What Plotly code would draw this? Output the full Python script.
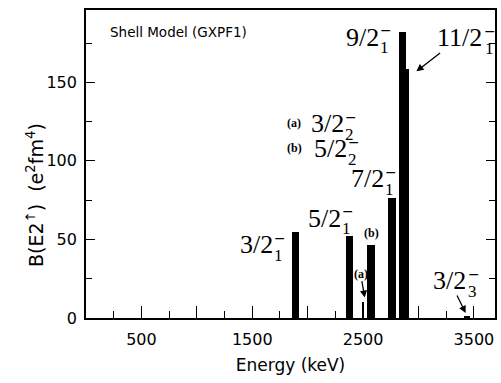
import plotly.graph_objects as go

# ---- data ----
states = ["3/2_1", "5/2_1", "3/2_2 (a)", "5/2_2 (b)", "7/2_1", "11/2_1", "9/2_1", "3/2_3"]
energy_keV = [1889, 2378, 2497, 2569, 2761, 2877, 2857, 3437]
be2_values = [55, 52.5, 10.5, 46.6, 76.3, 158.4, 182, 1.2]
bar_widths = [70, 68, 18, 70, 70, 70, 66, 60]

x_label_ticks = [500, 1500, 2500, 3500]
x_label_text = ["500", "1500", "2500", "3500"]
x_unlabeled_ticks = [1000, 2000, 3000]
y_tick_vals = [0, 50, 100, 150]
y_tick_text = ["0", "50", "100", "150"]

X_RANGE = [0, 3690]
Y_RANGE = [0, 196]
PLOT_W = 501 - 86 - 6
PX = PLOT_W / (X_RANGE[1] - X_RANGE[0])  # pixels per keV

SANS = "DejaVu Sans"
SERIF = "Liberation Serif"

fig = go.Figure()
fig.add_trace(go.Bar(x=energy_keV, y=be2_values, width=bar_widths,
                     marker=dict(color="black", line=dict(width=0)),
                     hoverinfo="x+y"))
# invisible trace on the overlay axis carrying the unlabeled long ticks
fig.add_trace(go.Scatter(x=[X_RANGE[0]], y=[0], xaxis="x2", mode="markers",
                         marker=dict(opacity=0), hoverinfo="skip", showlegend=False))

ann = []
MAIN = 26
SUBS = 17
W = {"0": .5, "1": .5, "2": .5, "3": .5, "4": .5, "5": .5, "6": .5, "7": .5,
     "8": .5, "9": .5, "/": .278}


def level(x, y, main, sub, head=None):
    w = sum(W[c] for c in main) * MAIN
    base = dict(text=main, showarrow=False, yanchor="middle", borderpad=0,
                font=dict(family=SERIF, size=MAIN, color="black"))
    if head is None:
        base.update(x=x, y=y, xanchor="left")
    else:
        xc = x + (w / 2) / PX
        base.update(x=head[0], y=head[1], ax=xc, ay=y, axref="x", ayref="y",
                    xanchor="center", showarrow=True, arrowhead=2, arrowsize=1.1,
                    arrowwidth=1.3, arrowcolor="black")
    ann.append(base)
    # subscript index
    ann.append(dict(x=x, y=y, text=sub, xanchor="left", yanchor="middle", borderpad=0,
                    xshift=w + 1, yshift=-10.8, showarrow=False,
                    font=dict(family=SERIF, size=SUBS, color="black")))
    # parity sign stacked above the index
    ann.append(dict(x=x, y=y, text="\u2212", xanchor="left", yanchor="middle", borderpad=0,
                    xshift=w + 0.5, yshift=6.9, showarrow=False,
                    font=dict(family=SANS, size=14, color="black")))


def small(x, y, t, anchor="left", head=None):
    a = dict(text="<b>%s</b>" % t, yanchor="middle", borderpad=0,
             font=dict(family=SERIF, size=12, color="black"))
    if head is None:
        a.update(x=x, y=y, xanchor=anchor, showarrow=False)
    else:
        a.update(x=head[0], y=head[1], ax=x, ay=y, axref="x", ayref="y",
                 xanchor="center", showarrow=True, arrowhead=2, arrowsize=1.1,
                 arrowwidth=1.3, arrowcolor="black")
    ann.append(a)


level(2335, 178.7, "9/2", "1")
level(3161, 178.2, "11/2", "1", head=(2981, 157))
level(2019, 123.5, "3/2", "2")
level(2046, 107.7, "5/2", "2")
level(2380, 88.6, "7/2", "1")
level(1995, 63.6, "5/2", "1")
level(1382, 46.5, "3/2", "1")
level(3131, 23.9, "3/2", "3", head=(3425, 3.2))
small(1803, 124.0, "(a)")
small(1803, 108.0, "(b)")
small(2578, 54.0, "(b)", "center")
small(2477, 28.2, "(a)", head=(2515, 13))

ann.append(dict(x=198, y=182, text="Shell Model (GXPF1)", xanchor="left", yanchor="middle",
                showarrow=False, font=dict(family=SANS, size=13.5, color="black")))

# y-axis title as a rotated paper annotation for exact placement
ann.append(dict(xref="paper", yref="paper", x=(35 - 86) / PLOT_W, y=(318 - 195) / 308,
                xanchor="center", yanchor="middle", textangle=-90, showarrow=False,
                text="B(E2<sup>\u2191</sup>)  (e<sup>2</sup>fm<sup>4</sup>)",
                font=dict(family=SANS, size=19, color="black")))

fig.update_layout(
    width=501, height=383,
    margin=dict(l=86, r=6, t=10, b=65, autoexpand=False),
    paper_bgcolor="white", plot_bgcolor="white",
    showlegend=False,
    annotations=ann,
    bargap=0,
    font=dict(family=SANS, color="black"),
    xaxis=dict(
        range=X_RANGE, tickmode="array", tickvals=x_label_ticks, ticktext=x_label_text,
        ticks="inside", ticklen=12, tickwidth=1.2, tickcolor="black",
        minor=dict(dtick=250, tick0=0, ticks="inside", ticklen=7, tickwidth=1.2,
                   tickcolor="black"),
        showline=True, linecolor="black", linewidth=1.7, mirror=True,
        showgrid=False, zeroline=False, automargin=False,
        tickfont=dict(family=SANS, size=16, color="black"), ticklabelstandoff=6,
        title=dict(text="Energy (keV)", font=dict(family=SANS, size=17, color="black"),
                   standoff=11),
    ),
    xaxis2=dict(overlaying="x", matches="x", side="bottom", anchor="y",
                tickmode="array", tickvals=x_unlabeled_ticks, showticklabels=False,
                ticks="inside", ticklen=12, tickwidth=1.2, tickcolor="black",
                showline=False, showgrid=False, zeroline=False, automargin=False),
    yaxis=dict(
        range=Y_RANGE, tickmode="array", tickvals=y_tick_vals, ticktext=y_tick_text,
        ticks="inside", ticklen=9, tickwidth=1.2, tickcolor="black",
        minor=dict(dtick=25, tick0=0, ticks="inside", ticklen=6, tickwidth=1.2,
                   tickcolor="black"),
        showline=True, linecolor="black", linewidth=1.7, mirror="ticks",
        showgrid=False, zeroline=False, automargin=False,
        tickfont=dict(family=SANS, size=16, color="black"), ticklabelstandoff=4,
    ),
)

fig.write_html("out.html", config={"displayModeBar": False},
               post_script="document.body.style.margin='0';document.body.style.overflow='hidden';")
